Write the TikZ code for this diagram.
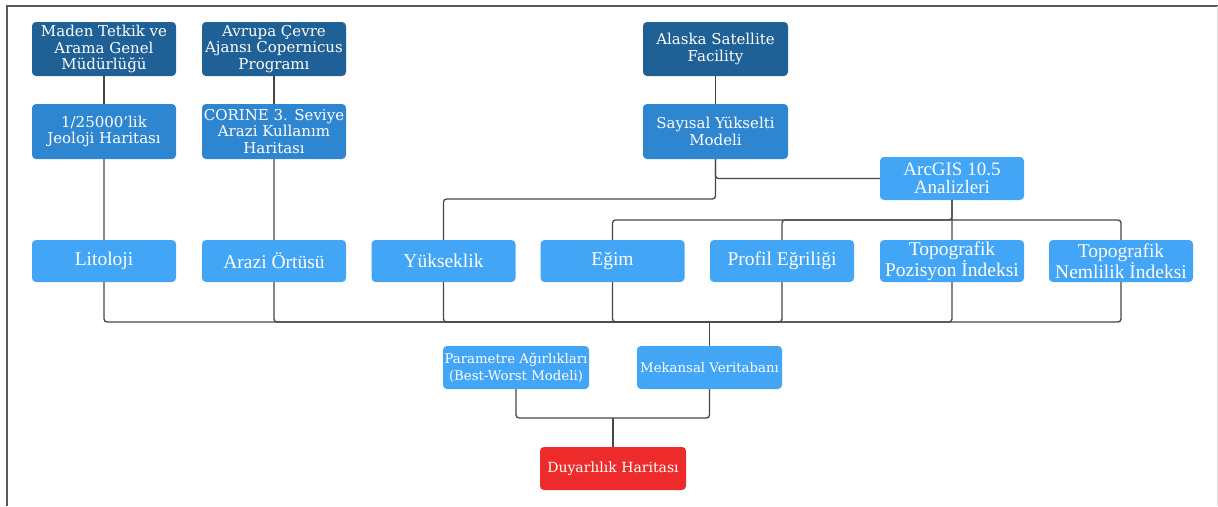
\documentclass[tikz,border=0pt]{standalone}
\usepackage{fontspec}
\setmainfont{DejaVu Serif}
\newfontfamily\crim{Liberation Serif}
\usetikzlibrary{backgrounds}
\definecolor{cdark}{RGB}{31,96,150}
\definecolor{cmed}{RGB}{47,134,208}
\definecolor{clight}{RGB}{66,165,245}
\definecolor{cred}{RGB}{238,43,43}
\definecolor{cline}{RGB}{70,70,70}
\begin{document}
\begin{tikzpicture}[x=1pt,y=-1pt,
  box/.style={rounded corners=4pt, inner sep=0pt, minimum width=144pt, text=white, align=center},
  darkbox/.style={box, fill=cdark, minimum height=54pt, font=\fontsize{15}{16.7}\selectfont},
  medbox/.style={box, fill=cmed, minimum height=55pt, font=\fontsize{15}{16.7}\selectfont},
  lightbox/.style={box, fill=clight, minimum height=42pt, font=\crim\fontsize{19.5}{18.5}\selectfont},
  arcbox/.style={box, fill=clight, minimum height=43pt, font=\crim\fontsize{19}{18.5}\selectfont},
  lowbox/.style={box, fill=clight, minimum height=43pt, font=\fontsize{13.3}{16.7}\selectfont},
  redbox/.style={box, fill=cred, minimum height=43pt, font=\fontsize{14}{16.7}\selectfont},
  conn/.style={draw=cline, line width=1.3pt, rounded corners=3pt}]
\useasboundingbox (0,0) rectangle (1218,506);
% frame
\draw[draw=black!65, line width=2.2pt] (7,506) -- (7,6) -- (1218,6);
\draw[draw=black!12, line width=1pt] (1217,6) -- (1217,506);
% coordinates
\coordinate (bus) at (709.5,322);
\coordinate (ka) at (952,220);
\coordinate (ky) at (443.5,199);
\coordinate (bus2) at (613,418);
% nodes
\path
 (104,49) node[darkbox] (maden) {Maden Tetkik ve\\Arama Genel\\Müdürlüğü}
 (274,49) node[darkbox] (avrupa) {Avrupa Çevre\\Ajansı Copernicus\\Programı}
 (715.5,49) node[darkbox, minimum width=145pt] (alaska) {Alaska Satellite\\Facility}
 (104,131.5) node[medbox] (jeoloji) {1/25000'lik\\Jeoloji Haritası}
 (274,131.5) node[medbox] (corine) {CORINE 3. Seviye\\Arazi Kullanım\\Haritası}
 (715.5,131.5) node[medbox, minimum width=145pt] (sayisal) {Sayısal Yükselti\\Modeli}
 (952,178.5) node[arcbox] (arcgis) {ArcGIS 10.5\\Analizleri}
 (104,261) node[lightbox] (lit) {Litoloji}
 (274,261) node[lightbox] (arazi) {Arazi Örtüsü}
 (443.5,261) node[lightbox] (yuk) {Yükseklik}
 (612.5,261) node[lightbox] (egim) {Eğim}
 (782,261) node[lightbox] (profil) {Profil Eğriliği}
 (952,261) node[lightbox] (tpi) {Topografik\\Pozisyon İndeksi}
 (1121,261) node[lightbox] (twi) {Topografik\\Nemlilik İndeksi}
 (516,367.5) node[lowbox, minimum width=146pt] (param) {Parametre Ağırlıkları\\(Best-Worst Modeli)}
 (709.5,367.5) node[lowbox, minimum width=145pt] (mek) {Mekansal Veritabanı}
 (613,468.5) node[redbox, minimum width=146pt] (duy) {Duyarlılık Haritası};
% connectors behind boxes
\begin{pgfonlayer}{background}
\draw[conn] (maden) -- (jeoloji);
\draw[conn] (avrupa) -- (corine);
\draw[conn] (alaska) -- (sayisal);
\draw[conn] (jeoloji.south) |- (bus);
\draw[conn] (corine.south) |- (bus);
\draw[conn] (sayisal.south) |- (arcgis.west);
\draw[conn] (sayisal.south) |- (ky) |- (bus);
\draw[conn] (arcgis.south) |- (egim.north |- ka) |- (bus);
\draw[conn] (ka) -| (profil.north) -- (profil.south) |- (bus);
\draw[conn] (arcgis.south) -- (tpi.south) |- (bus);
\draw[conn] (ka) -| (twi.north) -- (twi.south) |- (bus);
\draw[conn] (bus) -- (mek.north);
\draw[conn] (param.south) |- (bus2);
\draw[conn] (mek.south) |- (bus2);
\draw[conn] (bus2) -- (duy.north);
\end{pgfonlayer}
\end{tikzpicture}
\end{document}
